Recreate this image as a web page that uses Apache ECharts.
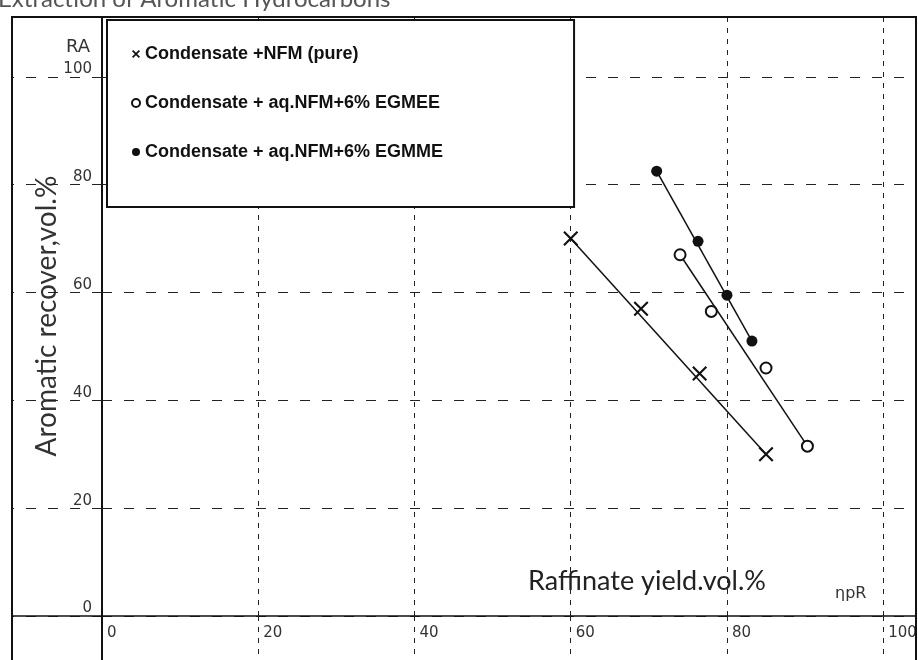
<!DOCTYPE html>
<html>
<head>
<meta charset="utf-8">
<script src="https://cdn.jsdelivr.net/npm/echarts@6/dist/echarts.min.js"></script>
<style>
  html, body { margin: 0; padding: 0; background: #fff; }
  #chart { width: 918px; height: 660px; }
</style>
</head>
<body>
<div id="chart"></div>
<script>
// Series names (legend entries)
const seriesNames = [
  'Condensate +NFM (pure)',
  'Condensate + aq.NFM+6% EGMEE',
  'Condensate + aq.NFM+6% EGMME'
];

// Measured points: [raffinate yield vol.%, aromatic recovery vol.%]
const nfmPure  = [[60, 70], [69, 57], [76.5, 45], [85, 30]];
const nfmEgmee = [[74, 67], [78, 56.5], [85, 46], [90.3, 31.5]];
const nfmEgmme = [[71, 82.5], [76.3, 69.5], [80, 59.5], [83.2, 51]];

// Straight trend lines drawn through each data set (end points)
const nfmPureFit  = [[60, 70], [85, 30]];
const nfmEgmeeFit = [[74, 67], [90.3, 31.5]];
const nfmEgmmeFit = [[71, 82.5], [83.2, 51]];

// Tick values on both axes
const xTicks = [0, 20, 40, 60, 80, 100];
const yTicks = [0, 20, 40, 60, 80, 100];

// Plot ranges (the frame runs a little past 100 on both axes)
const xMax = 104.2;
const yMax = 111.1;

const INK = '#111';
const CROSS = 'path://M0,2L2,0L10,8L18,0L20,2L12,10L20,18L18,20L10,12L2,20L0,18L8,10Z';
const CROSS_BOLD = 'path://M0,3L3,0L10,7L17,0L20,3L13,10L20,17L17,20L10,13L3,20L0,17L7,10Z';

const tickFont = { fontFamily: 'DejaVu Sans', fontSize: 15, color: '#333' };

function fitLine(name, data) {
  return {
    name: name, type: 'line', data: data,
    showSymbol: false, symbol: 'none', silent: true, z: 2,
    lineStyle: { color: INK, width: 1.5 },
    emphasis: { disabled: true }
  };
}
function points(name, data, symbol, size) {
  return {
    name: name, type: 'scatter', data: data,
    symbol: symbol, symbolSize: size, z: 3,
    itemStyle: { color: INK, opacity: 1 },
    emphasis: { disabled: true }
  };
}

const chart = echarts.init(document.getElementById('chart'), null, { renderer: 'canvas' });
chart.setOption({
  animation: false,
  backgroundColor: '#fff',
  grid: { left: 102, top: 17, right: 2, bottom: 44, outerBoundsMode: 'none', containLabel: false },
  xAxis: {
    type: 'value', min: 0, max: xMax,
    axisLine: { onZero: false, lineStyle: { color: INK, width: 1.5 } },
    // ticks hang below the axis and continue the vertical grid lines to the frame
    axisTick: { show: true, customValues: xTicks, inside: false, length: 44,
                lineStyle: { color: '#222', width: 1, type: [5, 6] } },
    axisLabel: Object.assign({ customValues: xTicks, align: 'left', margin: 10, padding: [0, 0, 0, 5] }, tickFont),
    splitLine: { show: true, lineStyle: { color: '#222', width: 1, type: [5, 6] } }
  },
  yAxis: {
    type: 'value', min: 0, max: yMax,
    axisLine: { onZero: false, lineStyle: { color: INK, width: 2 } },
    // ticks reach left to the frame, continuing the horizontal grid lines
    axisTick: { show: true, customValues: yTicks, inside: false, length: 90,
                lineStyle: { color: '#222', width: 1, type: [10, 12] } },
    axisLabel: Object.assign({ customValues: yTicks, align: 'right', verticalAlign: 'bottom', margin: 10 }, tickFont),
    splitLine: { show: true, lineStyle: { color: '#222', width: 1, type: [10, 12] } }
  },
  legend: {
    orient: 'vertical', left: 107, top: 20,
    data: [
      { name: seriesNames[0], icon: CROSS_BOLD },
      { name: seriesNames[1], icon: 'emptyCircle' },
      { name: seriesNames[2], icon: 'circle' }
    ],
    itemWidth: 8, itemHeight: 8, itemGap: 31,
    padding: [25, 131, 46, 24],
    backgroundColor: '#fff', borderColor: INK, borderWidth: 2, borderRadius: 0,
    selectedMode: false,
    textStyle: { fontFamily: 'Liberation Sans', fontWeight: 'bold', fontSize: 18, color: INK }
  },
  graphic: [
    // outer frame
    { type: 'polyline', z: 10, silent: true,
      shape: { points: [[12, 660], [12, 17], [916, 17], [916, 660]] },
      style: { stroke: INK, lineWidth: 2, fill: null } },
    // axis lines continued past the origin
    { type: 'line', z: 10, silent: true,
      shape: { x1: 12, y1: 616, x2: 102, y2: 616 },
      style: { stroke: INK, lineWidth: 1.5 } },
    { type: 'line', z: 10, silent: true,
      shape: { x1: 102, y1: 616, x2: 102, y2: 660 },
      style: { stroke: INK, lineWidth: 2 } },
    { type: 'text', silent: true, x: -2, y: 11,
      style: { text: 'Extraction of Aromatic Hydrocarbons', font: '24px Lato', fill: '#555', verticalAlign: 'bottom' } },
    { type: 'text', silent: true, x: 90, y: 47,
      style: { text: 'RA', font: '18px "DejaVu Sans"', fill: '#333', align: 'right', verticalAlign: 'middle' } },
    { type: 'text', silent: true, x: 835, y: 594,
      style: { text: 'ηpR', font: '16px "DejaVu Sans"', fill: '#333', align: 'left', verticalAlign: 'middle' } },
    { type: 'text', silent: true, x: 47, y: 316, rotation: Math.PI / 2,
      style: { text: 'Aromatic recover,vol.%', font: '28px Lato', fill: '#333', align: 'center', verticalAlign: 'middle' } },
    { type: 'text', silent: true, x: 647, y: 581,
      style: { text: 'Raffinate yield.vol.%', font: '27px Lato', fill: '#222', align: 'center', verticalAlign: 'middle' } }
  ],
  series: [
    points(seriesNames[0], nfmPure, CROSS, 15),
    points(seriesNames[1], nfmEgmee, 'emptyCircle', 11),
    points(seriesNames[2], nfmEgmme, 'circle', 11),
    fitLine(seriesNames[0], nfmPureFit),
    fitLine(seriesNames[1], nfmEgmeeFit),
    fitLine(seriesNames[2], nfmEgmmeFit)
  ]
});
</script>
</body>
</html>
